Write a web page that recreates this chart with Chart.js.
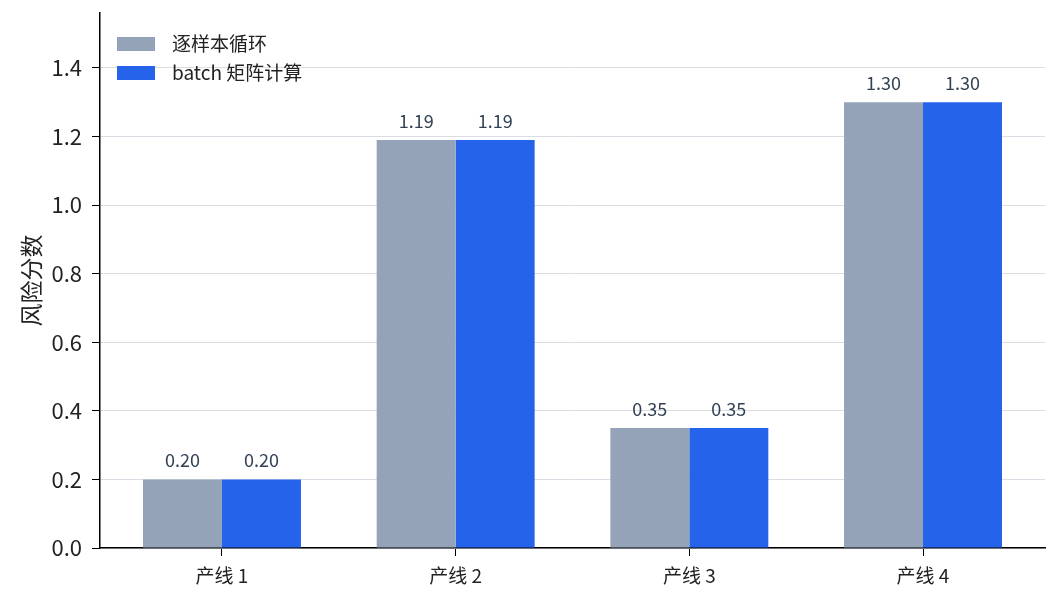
<!DOCTYPE html>
<html>
<head>
<meta charset="utf-8">
<script src="https://cdn.jsdelivr.net/npm/chart.js@4.4.1/dist/chart.umd.min.js"></script>
<style>
  html, body { margin: 0; padding: 0; background: #fff; }
  #wrap { width: 1062px; height: 603px; }
</style>
</head>
<body>
<div id="wrap"><canvas id="graph1" width="1062" height="603"></canvas></div>
<script>
// dati del grafico
var categories = ["产线 1", "产线 2", "产线 3", "产线 4"];
var loopValues = [0.20, 1.19, 0.35, 1.30];
var batchValues = [0.20, 1.19, 0.35, 1.30];
var seriesNames = ["逐样本循环", "batch 矩阵计算"];
var yTicks = [0.0, 0.2, 0.4, 0.6, 0.8, 1.0, 1.2, 1.4];
var yTitle = "风险分数";

var FONT = "'Noto Sans CJK SC', 'Noto Sans', sans-serif";

function toPoints(values) {
	return values.map(function(v, i) { return {x: i, y: v}; });
}

// etichette sopra le barre
var valueLabels = {
	id: "valueLabels",
	afterDatasetsDraw: function(chart) {
		var ctx = chart.ctx;
		ctx.save();
		ctx.font = "18px " + FONT;
		ctx.fillStyle = "#334155";
		ctx.textAlign = "center";
		ctx.textBaseline = "middle";
		chart.data.datasets.forEach(function(ds, di) {
			chart.getDatasetMeta(di).data.forEach(function(bar, i) {
				ctx.fillText(ds.data[i].y.toFixed(2), bar.x, bar.y - 19);
			});
		});
		ctx.restore();
	}
};

// legenda dentro l'area del grafico, in alto a sinistra
var innerLegend = {
	id: "innerLegend",
	afterDraw: function(chart) {
		var ctx = chart.ctx;
		ctx.save();
		ctx.font = "19px " + FONT;
		ctx.textBaseline = "middle";
		chart.data.datasets.forEach(function(ds, i) {
			var y = 44 + i * 29;
			ctx.fillStyle = ds.backgroundColor;
			ctx.fillRect(117, y - 7, 38, 14);
			ctx.fillStyle = "#222";
			ctx.fillText(ds.label, 172, y);
		});
		ctx.restore();
	}
};

var ctx = document.getElementById("graph1").getContext("2d");
var chart = new Chart(ctx, {
	type: "bar",
	data: {
		datasets: [
			{ label: seriesNames[0], data: toPoints(loopValues), backgroundColor: "#94a3b8",
			  categoryPercentage: 0.676, barPercentage: 1.0 },
			{ label: seriesNames[1], data: toPoints(batchValues), backgroundColor: "#2563eb",
			  categoryPercentage: 0.676, barPercentage: 1.0 }
		]
	},
	options: {
		responsive: false,
		animation: false,
		layout: { padding: { top: 13, right: 17, left: 0, bottom: 0 } },
		plugins: { legend: { display: false }, tooltip: { enabled: false } },
		scales: {
			x: {
				type: "linear",
				min: -0.522,
				max: 3.522,
				offset: false,
				afterBuildTicks: function(scale) {
					scale.ticks = categories.map(function(c, i) { return {value: i}; });
				},
				afterFit: function(scale) {
					scale.height = 55;
					scale.paddingLeft = 0;
					scale.paddingRight = 0;
				},
				ticks: {
					autoSkip: false,
					maxRotation: 0,
					padding: 8,
					color: "#222",
					font: { family: FONT, size: 19 },
					callback: function(v) { return categories[v]; }
				},
				grid: { drawOnChartArea: false, drawTicks: true, tickLength: 8, tickColor: "#000", offset: false },
				border: { color: "#000", width: 1.5 }
			},
			y: {
				min: 0,
				max: 1.56,
				afterBuildTicks: function(scale) {
					scale.ticks = yTicks.map(function(v) { return {value: v}; });
				},
				afterFit: function(scale) {
					scale.width = 100;
					scale.paddingTop = 0;
					scale.paddingBottom = 0;
				},
				ticks: {
					padding: 10,
					color: "#222",
					font: { family: FONT, size: 22 },
					callback: function(v) { return v.toFixed(1); }
				},
				grid: {
					color: "#dadee4",
					lineWidth: 1,
					drawTicks: true,
					tickLength: 8,
					tickColor: "#000"
				},
				border: { color: "#000", width: 1.5 },
				title: {
					display: true,
					text: yTitle,
					color: "#222",
					font: { family: FONT, size: 23 },
					padding: { top: 17, bottom: 0 }
				}
			}
		}
	},
	plugins: [valueLabels, innerLegend]
});
</script>
</body>
</html>
